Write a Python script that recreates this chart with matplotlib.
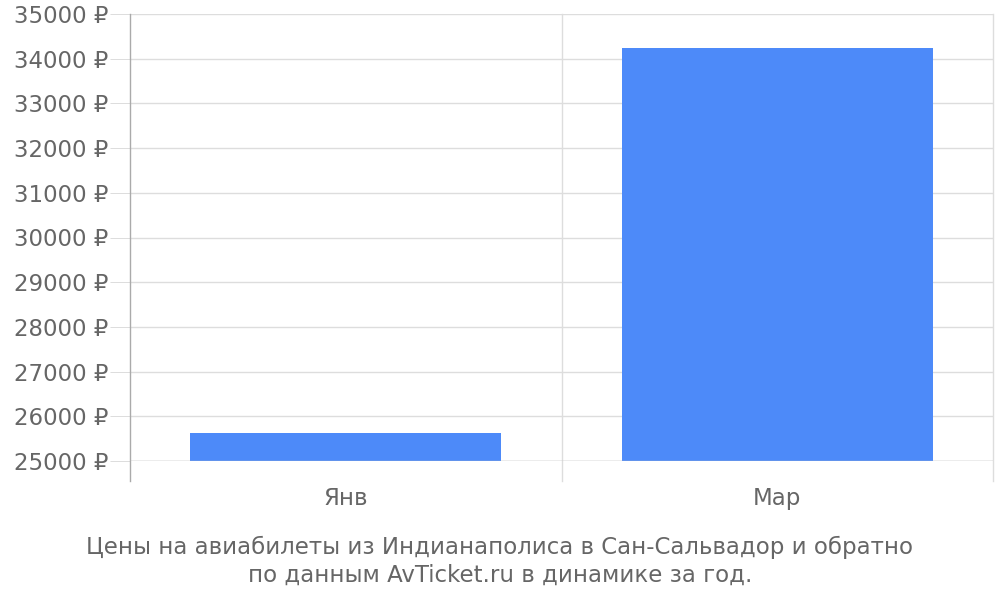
import matplotlib.pyplot as plt

plt.rcParams['font.family'] = ['DejaVu Sans']

months = ['Янв', 'Мар']
prices = [25630, 34250]
y_ticks = list(range(25000, 35001, 1000))

FS = 16.5

fig = plt.figure(figsize=(10, 6), dpi=100)
ax = fig.add_axes([0.130, 1 - 461 / 600, 0.863, 447 / 600])

x = [i + 0.5 for i in range(len(months))]
ax.bar(x, [p - 25000 for p in prices], bottom=25000, width=0.72, color='#4d8af9', zorder=3)

ax.set_xlim(0, len(months))
ax.set_ylim(25000, 35000)
ax.set_yticks(y_ticks)
ax.set_yticklabels([f'{v} ₽' for v in y_ticks])
ax.set_xticks(x)
ax.set_xticklabels(months)

for v in y_ticks:
    ax.axhline(v, color='#dddddd', lw=1, zorder=1)

# вертикальные разделители категорий, уходят ниже оси
tr = ax.get_xaxis_transform()
for i in range(len(months) + 1):
    c = '#aaaaaa' if i == 0 else '#dddddd'
    ax.plot([i, i], [-20 / 447, 1], transform=tr, color=c, lw=1, clip_on=False, zorder=2)

for s in ax.spines.values():
    s.set_visible(False)
ax.axhline(25000, color='#bbbbbb', lw=1, zorder=4)

ax.tick_params(axis='y', length=14.4, width=0.72, color='#dddddd', pad=1.5, labelsize=FS, labelcolor='#666666')
ax.tick_params(axis='x', length=0, pad=19, labelsize=FS, labelcolor='#666666')

fig.text(0.5, 1 - 547 / 600, 'Цены на авиабилеты из Индианаполиса в Сан-Сальвадор и обратно',
         ha='center', va='center', fontsize=FS, color='#666666')
fig.text(0.5, 1 - 575 / 600, 'по данным AvTicket.ru в динамике за год.',
         ha='center', va='center', fontsize=FS, color='#666666')

fig.savefig('out.png', dpi=100, facecolor='white')
